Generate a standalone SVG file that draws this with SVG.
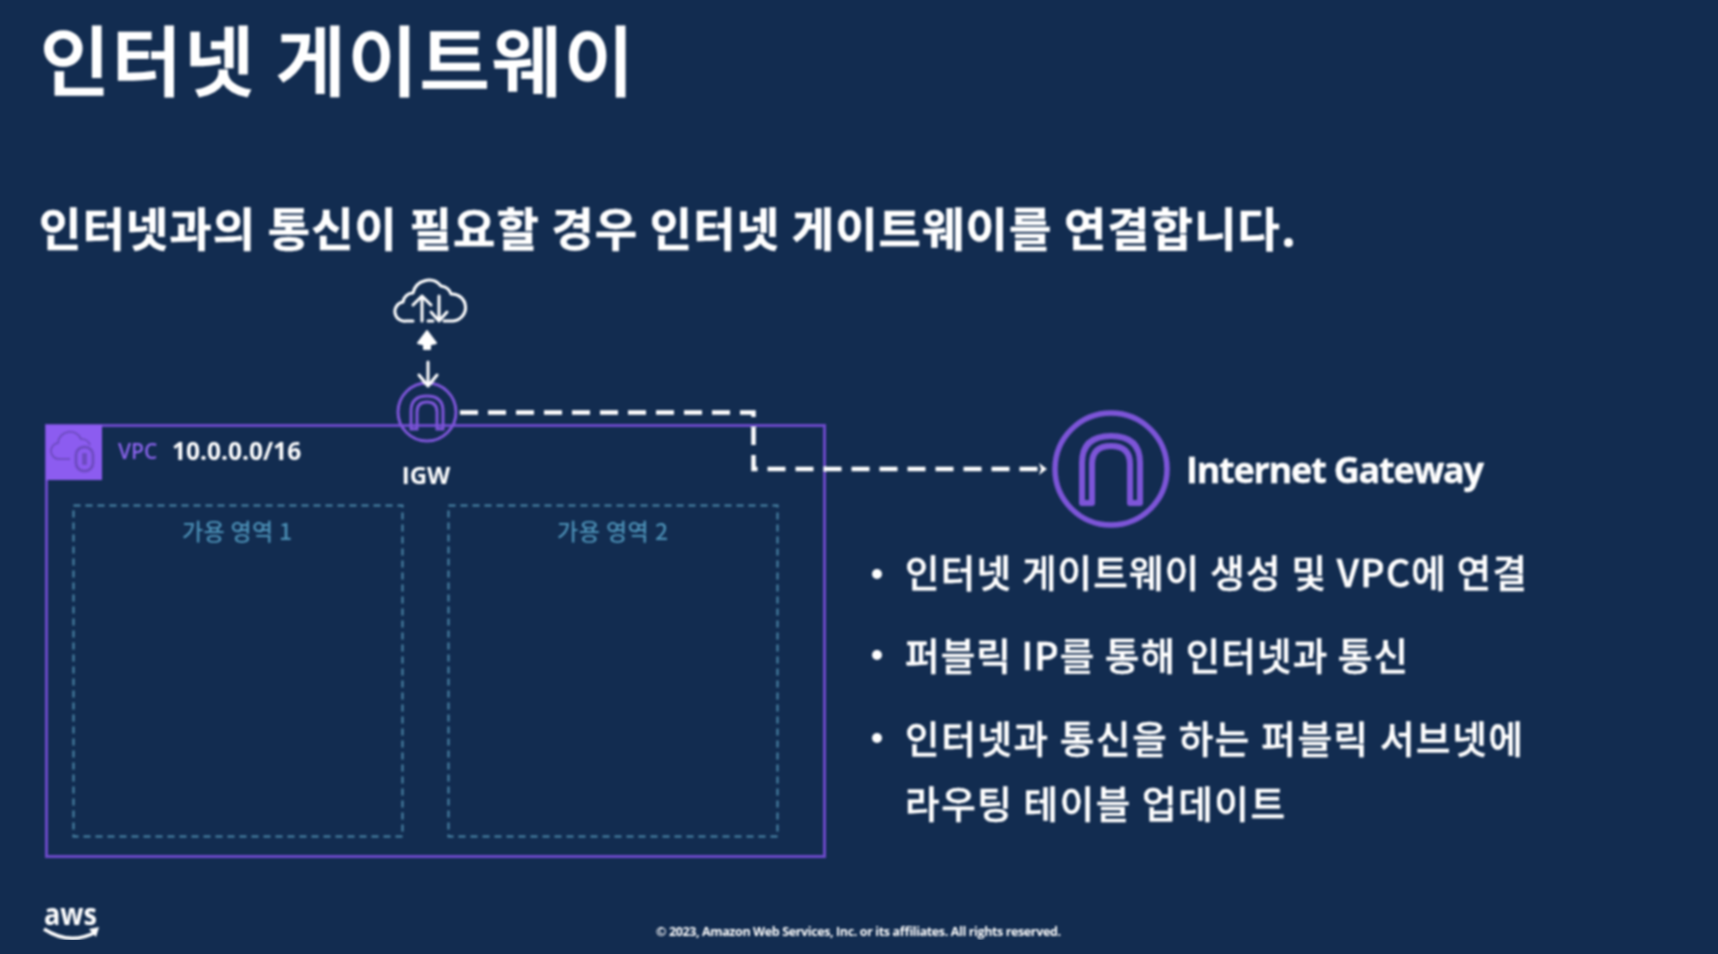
<svg xmlns="http://www.w3.org/2000/svg" width="1718" height="954" viewBox="0 0 1718 954">
<style>
text{font-family:"Noto Sans CJK KR","Noto Sans",sans-serif;fill:#fff}
.lat{font-family:"Open Sans","Noto Sans CJK KR",sans-serif}
.b{font-size:37.500px;font-weight:500;stroke:#fff;stroke-width:.5}
.az{fill:none;stroke:#4b86a8;stroke-width:2;stroke-dasharray:7 5}
.azt{font-size:23px;fill:#4b8fb5;font-weight:500}
.pl{fill:none;stroke:#7d55d8}
.w{fill:none;stroke:#fff;stroke-width:3;stroke-linecap:round;stroke-linejoin:round}
</style>
<defs>
<filter id="soft" x="0" y="0" width="100%" height="100%"><feGaussianBlur stdDeviation="0.8"/></filter>
<marker id="ah" markerWidth="12" markerHeight="12" refX="9" refY="6" orient="auto" markerUnits="userSpaceOnUse"><path d="M2 0L10 6L2 12L4 6Z" fill="#fff"/></marker>
</defs>
<rect width="1718" height="954" fill="#122c50"/>
<g filter="url(#soft)">
<text id="title" x="40" y="90" font-size="76" font-weight="500" stroke="#fff" stroke-width="1.600" textLength="594">인터넷 게이트웨이</text>
<text id="subtitle" x="39" y="246" font-size="46" font-weight="700" stroke="#fff" stroke-width=".5" textLength="1257">인터넷과의 통신이 필요할 경우 인터넷 게이트웨이를 연결합니다.</text>

<g id="vpc">
<rect x="46.500" y="425.500" width="778" height="431" fill="none" stroke="#6a48c8" stroke-width="3"/>
<rect x="46" y="425" width="56" height="55" fill="#8c5cf0"/>
<path d="M70 459h-10a8 8 0 0 1-2-16a12 12 0 0 1 23-4a9 9 0 0 1 9 6" fill="none" stroke="#6d4cc0" stroke-width="2"/>
<rect x="76" y="447" width="17" height="24" rx="8" fill="none" stroke="#6d4cc0" stroke-width="3"/>
<rect x="82" y="453" width="5" height="12" fill="#6d4cc0"/>
<text x="118" y="459" font-size="21" class="lat" font-weight="600" style="fill:#8a63ec">VPC</text>
<text x="172" y="460" font-size="24.500" class="lat" font-weight="700">10.0.0.0/16</text>
</g>

<g id="az1">
<rect class="az" x="73.500" y="505.500" width="329" height="331"/>
<text class="azt" x="182" y="540" textLength="110">가용 영역 1</text>
</g>
<g id="az2">
<rect class="az" x="448.500" y="505.500" width="329" height="331"/>
<text class="azt" x="557" y="540" textLength="111">가용 영역 2</text>
</g>

<g id="internet">
<path class="w" stroke-width="3.500" d="M413 321h-7a9.500 9.500 0 0 1-3-19a10 10 0 0 1 10-9a16 16 0 0 1 28-7a12 12 0 0 1 10 8a13 13 0 0 1 2 27h-9"/>
<path class="w" d="M422 321V296M413 305l9-9l9 9"/>
<path class="w" d="M439 296V320M431 312l8 9l8-9M428 321h5"/>
</g>

<g id="igw">
<circle cx="427" cy="412" r="29" fill="none" stroke="#7d55d8" stroke-width="3"/>
<path class="pl" stroke-width="3" d="M411 429V411Q411 396 427 396Q443 396 443 411V429H437V412Q437 402 427 402Q417 402 417 412V429Z"/>
<text x="426" y="484" font-size="24" class="lat" font-weight="700" text-anchor="middle">IGW</text>
</g>

<g id="gateway">
<circle cx="1111" cy="469" r="56" fill="none" stroke="#7d55d8" stroke-width="5.500"/>
<path class="pl" stroke-width="6" stroke-linejoin="round" d="M1082 503V463Q1082 436 1111 436Q1140 436 1140 463V503H1130V464Q1130 446 1111 446Q1092 446 1092 464V503Z"/>
<text x="1186" y="483" font-size="36" class="lat" font-weight="700" stroke="#fff" stroke-width=".4" textLength="298">Internet Gateway</text>
</g>

<g id="connectors">
<path fill="none" stroke="#fff" stroke-width="4.500" stroke-dasharray="18 10" d="M460 412.500H753.500V469H1046" marker-end="url(#ah)"/>
<path d="M427 331l-9 12l4 1l2-1v6h6v-6l2 1l4-1Z" fill="#fff" stroke="#fff" stroke-width="2" stroke-linejoin="round"/>
<path class="w" stroke-width="4" d="M428 362V386M419 375l9 11l9-11"/>
</g>

<g id="bullets">
<circle cx="877" cy="574" r="5" fill="#fff"/>
<circle cx="877" cy="655" r="5" fill="#fff"/>
<circle cx="877" cy="738" r="5" fill="#fff"/>
<text class="b" x="905" y="587" textLength="622">인터넷 게이트웨이 생성 및 VPC에 연결</text>
<text class="b" x="905" y="670" textLength="503">퍼블릭 IP를 통해 인터넷과 통신</text>
<text class="b" x="905" y="753" textLength="618">인터넷과 통신을 하는 퍼블릭 서브넷에</text>
<text class="b" x="905" y="818" textLength="380">라우팅 테이블 업데이트</text>
</g>

<g id="aws">
<text x="44" y="925" font-size="31" class="lat" font-weight="700" textLength="53" lengthAdjust="spacingAndGlyphs">aws</text>
<path d="M44 929Q70 946 96 932" fill="none" stroke="#fff" stroke-width="3.500"/>
<path d="M89 929L99 927L96 937Z" fill="#fff"/>
</g>

<text id="footer" x="656" y="936" font-size="12.500" class="lat" font-weight="700" textLength="405">© 2023, Amazon Web Services, Inc. or its affiliates. All rights reserved.</text>
</g>
</svg>
